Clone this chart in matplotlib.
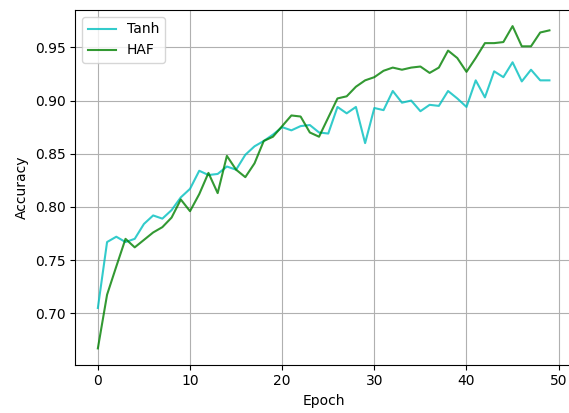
import matplotlib
matplotlib.use("Agg")
import matplotlib.pyplot as plt

# Accuracy per epoch
epochs = list(range(50))

tanh_acc = [0.705, 0.767, 0.772, 0.767, 0.770, 0.784, 0.792, 0.789, 0.797, 0.809,
            0.817, 0.834, 0.830, 0.831, 0.838, 0.835, 0.849, 0.857, 0.862, 0.868,
            0.875, 0.872, 0.876, 0.877, 0.870, 0.869, 0.894, 0.888, 0.894, 0.860,
            0.893, 0.891, 0.909, 0.898, 0.900, 0.890, 0.896, 0.895, 0.909, 0.902,
            0.894, 0.919, 0.903, 0.9275, 0.922, 0.936, 0.918, 0.929, 0.919, 0.919]

haf_acc = [0.667, 0.7175, 0.744, 0.770, 0.762, 0.769, 0.776, 0.781, 0.790, 0.807,
           0.796, 0.812, 0.832, 0.813, 0.848, 0.835, 0.828, 0.841, 0.862, 0.866,
           0.876, 0.886, 0.885, 0.870, 0.866, 0.884, 0.902, 0.904, 0.913, 0.919,
           0.922, 0.928, 0.931, 0.929, 0.931, 0.932, 0.926, 0.931, 0.947, 0.940,
           0.927, 0.940, 0.954, 0.954, 0.955, 0.970, 0.951, 0.951, 0.964, 0.966]

fig = plt.figure(figsize=(5.69, 4.13), dpi=100)
# the reference is cropped on the right, so the axes run past the figure edge
ax = fig.add_axes([0.1323, 0.1174, 0.873, 0.8584])

ax.plot(epochs, tanh_acc, color="c", alpha=0.8, linewidth=1.5, label="Tanh")
ax.plot(epochs, haf_acc, color="g", alpha=0.8, linewidth=1.5, label="HAF")

ax.set_xlabel("Epoch")
ax.set_ylabel("Accuracy")
ax.grid(True)
ax.legend(loc="upper left")

fig.savefig("out.png", dpi=100)
